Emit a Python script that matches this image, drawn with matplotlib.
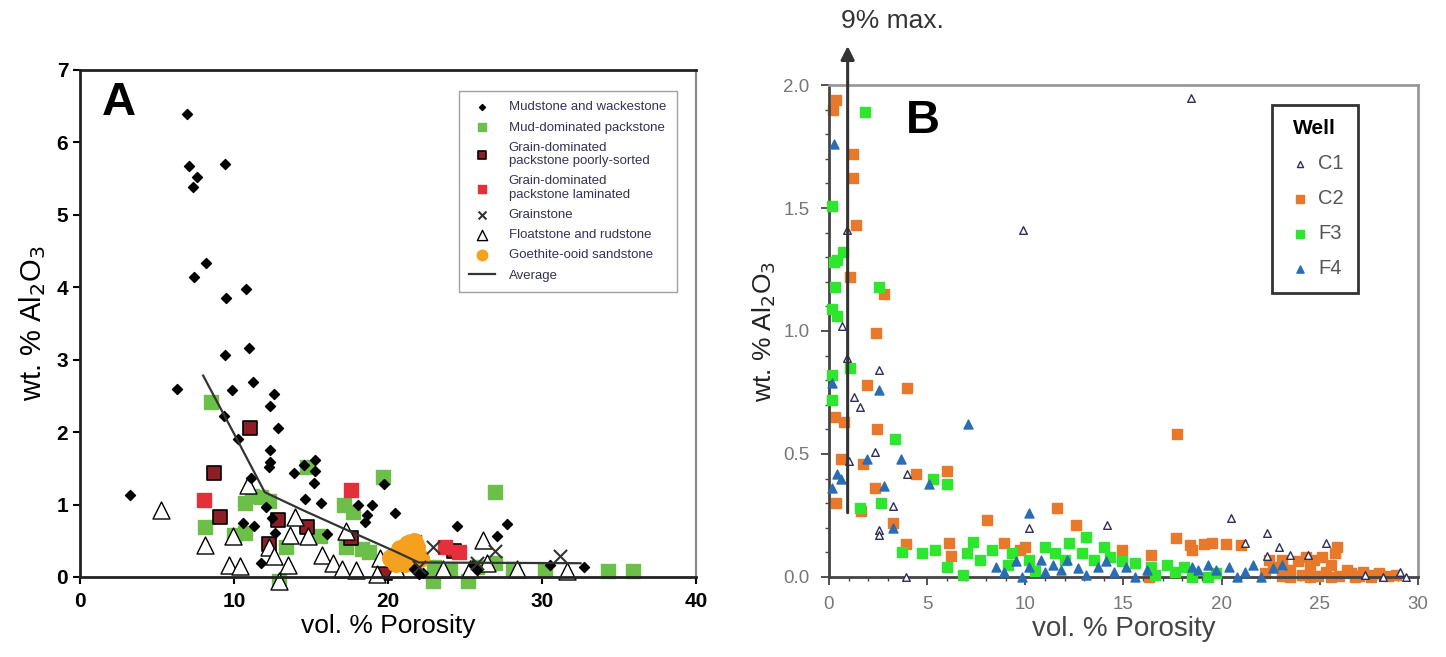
import matplotlib.pyplot as plt

plt.rcParams['font.family'] = ['Liberation Sans', 'DejaVu Sans']

# ---------------- panel A data ----------------
mud_x = [6.93, 7.08, 7.57, 7.37, 9.42, 8.19, 7.43, 10.79, 9.47, 9.42, 10.96, 11.23, 6.32, 9.85,
         12.57, 12.37, 9.36, 12.84, 10.23, 12.34, 12.34, 12.28, 13.92, 14.53, 15.26, 15.26, 15.18,
         3.22, 11.11, 14.59, 15.67, 18.04, 18.95, 19.77, 20.47, 18.65, 18.48, 12.05, 10.58, 11.31,
         12.49, 12.69, 16.05, 24.5, 27.7, 27.1, 11.78, 30.5, 32.7, 21.7, 22.0, 22.3, 25.5, 25.8]
mud_y = [6.39, 5.67, 5.52, 5.39, 5.70, 4.34, 4.14, 3.97, 3.85, 3.07, 3.16, 2.69, 2.60, 2.58,
         2.52, 2.36, 2.22, 2.05, 1.90, 1.75, 1.59, 1.52, 1.44, 1.54, 1.62, 1.47, 1.30,
         1.13, 1.37, 1.07, 1.02, 0.99, 1.00, 1.28, 0.88, 0.85, 0.76, 0.96, 0.75, 0.70,
         0.81, 0.61, 0.59, 0.70, 0.73, 0.56, 0.19, 0.17, 0.14, 0.11, 0.04, 0.06, 0.16, 0.09]

mudpack_x = [8.48, 8.1, 10.0, 10.73, 11.17, 11.75, 12.28, 10.73, 13.36, 14.74, 17.16, 17.75, 19.65,
             26.96, 17.3, 18.33, 18.77, 15.56, 23.0, 24.0, 25.8, 26.96, 28.13, 30.2, 34.3, 35.9,
             20.5, 22.9, 25.2, 12.9]
mudpack_y = [2.41, 0.69, 0.58, 1.02, 1.12, 1.10, 1.05, 0.61, 0.41, 1.52, 1.00, 0.90, 1.38,
             1.18, 0.41, 0.38, 0.34, 0.56, 0.14, 0.09, 0.14, 0.19, 0.11, 0.09, 0.08, 0.08,
             0.09, -0.05, -0.05, -0.05]

poor_x = [11.02, 8.68, 9.12, 12.87, 12.28, 14.77, 17.6, 19.8, 24.3]
poor_y = [2.06, 1.44, 0.83, 0.78, 0.46, 0.69, 0.54, 0.05, 0.36]

lam_x = [8.04, 17.6, 23.7, 24.6, 21.7]
lam_y = [1.06, 1.20, 0.41, 0.34, 0.48]

grain_x = [22.9, 26.96, 31.2, 25.8, 22.0]
grain_y = [0.41, 0.36, 0.29, 0.19, 0.14]

float_x = [5.26, 8.1, 9.7, 10.4, 9.94, 10.88, 12.28, 12.63, 13.51, 13.95, 13.65, 14.82, 15.7,
           16.4, 17.0, 17.9, 17.3, 19.5, 19.3, 20.5, 23.6, 25.35, 26.2, 26.4, 28.4, 31.6, 12.9]
float_y = [0.93, 0.44, 0.16, 0.15, 0.56, 1.27, 0.41, 0.29, 0.16, 0.83, 0.58, 0.56, 0.31,
           0.19, 0.11, 0.09, 0.63, 0.26, 0.04, 0.11, 0.11, 0.11, 0.51, 0.19, 0.11, 0.08, -0.05]

goe_x = [20.2, 20.8, 21.3, 21.55, 21.8, 21.1, 20.5, 22.1, 21.7]
goe_y = [0.26, 0.38, 0.46, 0.34, 0.41, 0.19, 0.19, 0.26, 0.48]

avg_x = [8.0, 10.0, 12.0, 14.5, 17.0, 20.5, 22.0, 32.5]
avg_y = [2.78, 1.98, 1.17, 0.92, 0.68, 0.35, 0.20, 0.19]

# ---------------- panel B data ----------------
c1_x = [18.45, 9.89, 0.9, 0.66, 0.9, 1.25, 1.6, 2.55, 2.32, 1.02, 3.97, 3.27, 2.55, 2.55, 3.93,
        10.2, 14.15, 20.5, 21.2, 22.3, 22.9, 25.3, 23.5, 24.4, 29.1, 29.4, 28.2, 27.3, 22.3]
c1_y = [1.946, 1.41, 1.41, 1.02, 0.89, 0.73, 0.69, 0.84, 0.51, 0.47, 0.42, 0.29, 0.19, 0.17, 0.0,
        0.20, 0.21, 0.24, 0.14, 0.18, 0.12, 0.14, 0.09, 0.09, 0.02, 0.0, 0.0, 0.01, 0.085]

c2_x = [0.38, 0.19, 1.2, 1.2, 1.37, 1.09, 2.79, 2.39, 1.92, 3.97, 0.31, 0.78, 2.44, 17.74, 0.59,
        1.73, 2.32, 4.45, 5.99, 0.38, 1.61, 3.27, 11.6, 8.05, 12.6, 3.93, 6.1, 8.9, 10.0, 14.9,
        17.7, 18.4, 19.1, 19.5, 20.2, 16.4, 6.2, 25.9, 16.3, 9.75, 18.48, 20.98,
        22.22, 22.64, 23.05, 23.47, 23.89, 24.09, 24.51, 24.72, 24.93, 25.34, 25.55, 25.76,
        25.97, 26.38, 26.59, 27.0, 27.21, 27.63, 28.04, 28.46, 28.88, 23.05, 24.3, 25.13,
        22.43, 23.47, 25.55, 26.8, 27.63, 24.51]
c2_y = [1.94, 1.90, 1.72, 1.62, 1.43, 1.22, 1.15, 0.99, 0.78, 0.77, 0.65, 0.63, 0.60, 0.58, 0.48,
        0.46, 0.36, 0.42, 0.43, 0.30, 0.27, 0.22, 0.28, 0.23, 0.21, 0.135, 0.14, 0.14, 0.12, 0.11,
        0.16, 0.13, 0.135, 0.14, 0.135, 0.09, 0.085, 0.12, 0.0, 0.11, 0.11, 0.13,
        0.015, 0.042, 0.002, 0.029, 0.063, 0.008, 0.042, 0.069, 0.002, 0.022, 0.049, 0.096,
        0.002, 0.029, 0.015, 0.002, 0.022, 0.008, 0.015, 0.002, 0.008, 0.069, 0.083, 0.083,
        0.069, 0.0, 0.0, 0.0, 0.0, 0.0]

f3_x = [1.85, 0.14, 0.26, 0.73, 0.43, 0.31, 0.14, 0.43, 2.55, 0.14, 1.09, 0.14, 3.34, 5.28, 5.99,
        1.56, 2.63, 3.72, 4.76, 5.38, 6.01, 6.84, 7.05, 7.36, 7.67, 8.29, 9.13, 9.33, 10.17,
        11.0, 11.52, 12.04, 12.24, 12.87, 13.08, 13.49, 14.01, 14.32, 14.95, 15.57, 16.4, 17.23,
        17.65, 18.07, 18.48, 19.31, 19.73, 10.5, 16.6]
f3_y = [1.89, 1.51, 1.28, 1.32, 1.29, 1.18, 1.09, 1.06, 1.18, 0.82, 0.85, 0.72, 0.56, 0.40, 0.38,
        0.28, 0.30, 0.103, 0.096, 0.11, 0.042, 0.008, 0.096, 0.144, 0.069, 0.11, 0.049, 0.096, 0.069,
        0.123, 0.096, 0.069, 0.137, 0.096, 0.164, 0.069, 0.123, 0.083, 0.063, 0.056, 0.042, 0.049,
        0.022, 0.042, 0.0, 0.0, 0.015, 0.025, 0.008]

f4_x = [0.26, 0.14, 2.55, 7.1, 1.92, 3.69, 0.43, 0.59, 0.14, 2.79, 5.11, 3.27, 10.2,
        8.5, 8.92, 9.54, 9.85, 10.17, 10.79, 11.0, 11.41, 11.83, 12.14, 12.66, 13.08, 13.7,
        14.12, 14.53, 15.15, 15.57, 16.19, 18.48, 18.79, 19.31, 19.73, 20.35, 20.77, 21.18,
        21.6, 22.0, 22.6, 23.05]
f4_y = [1.76, 0.79, 0.76, 0.62, 0.48, 0.48, 0.42, 0.40, 0.36, 0.37, 0.376, 0.20, 0.26,
        0.042, 0.022, 0.063, 0.0, 0.042, 0.069, 0.022, 0.049, 0.029, 0.069, 0.035, 0.008, 0.042,
        0.063, 0.022, 0.042, 0.0, 0.029, 0.042, 0.029, 0.049, 0.029, 0.042, 0.0, 0.022,
        0.049, 0.0, 0.035, 0.049]

fig = plt.figure(figsize=(14.46, 6.57), dpi=100)

# ================= panel A =================
axA = fig.add_axes([0.0553, 0.1218, 0.426, 0.7717])
axA.scatter(mud_x, mud_y, marker='D', s=26, c='black', zorder=3, clip_on=False,
            label='Mudstone and wackestone')
axA.scatter(mudpack_x, mudpack_y, marker='s', s=110, c='#6cc04a', zorder=2, clip_on=False,
            label='Mud-dominated packstone')
axA.scatter(poor_x, poor_y, marker='s', s=110, c='#8e1e26', edgecolors='black', linewidths=1.2,
            zorder=2, clip_on=False, label='Grain-dominated\npackstone poorly-sorted')
axA.scatter(lam_x, lam_y, marker='s', s=110, c='#e3303b', zorder=2, clip_on=False,
            label='Grain-dominated\npackstone laminated')
axA.scatter(grain_x, grain_y, marker='x', s=90, c='#333333', linewidths=1.5, zorder=3,
            label='Grainstone')
axA.scatter(float_x, float_y, marker='^', s=150, facecolors='white', edgecolors='black', linewidths=1.0,
            zorder=2, clip_on=False, label='Floatstone and rudstone')
axA.scatter(goe_x, goe_y, marker='o', s=160, c='#f5a01e', zorder=2, label='Goethite-ooid sandstone')
axA.plot(avg_x, avg_y, color='#333333', lw=1.6, zorder=4, label='Average')

axA.set_xlim(0, 40)
axA.set_ylim(0, 7)
axA.set_xticks([0, 10, 20, 30, 40])
axA.set_yticks(range(0, 8))
axA.tick_params(labelsize=15, width=1.5, length=5)
axA.tick_params(axis='x', pad=6)
for lab in axA.get_xticklabels() + axA.get_yticklabels():
    lab.set_fontweight('bold')
for s in ['left', 'bottom', 'top']:
    axA.spines[s].set_linewidth(2)
    axA.spines[s].set_color('#222222')
axA.spines['right'].set_color('#888888')
axA.spines['right'].set_linewidth(1.5)
axA.set_xlabel('vol. % Porosity', fontsize=19, labelpad=2)
axA.set_ylabel('wt. % Al$_2$O$_3$', fontsize=21, labelpad=6)
axA.text(0.035, 0.935, 'A', transform=axA.transAxes, fontsize=34, fontweight='bold', va='center')
legA = axA.legend(loc='upper right', bbox_to_anchor=(0.975, 0.967), fontsize=9.5, frameon=True,
                  fancybox=False, edgecolor='#888888', labelspacing=0.6, handletextpad=1.0,
                  borderpad=0.8, borderaxespad=0.3, markerscale=0.6, labelcolor='#333355')

# ================= panel B =================
axB = fig.add_axes([0.5733, 0.1218, 0.4073, 0.7488])
axB.scatter(c1_x, c1_y, marker='^', s=30, facecolors='white', edgecolors='#2e2f5e', linewidths=1.0,
            zorder=4, clip_on=False, label='C1')
axB.scatter(c2_x, c2_y, marker='s', s=58, c='#e8782a', zorder=2, clip_on=False, label='C2')
axB.scatter(f3_x, f3_y, marker='s', s=62, c='#2ee62e', zorder=3, clip_on=False, label='F3')
axB.scatter(f4_x, f4_y, marker='^', s=42, c='#2a6db3', zorder=3, clip_on=False, label='F4')

axB.set_xlim(0, 30)
axB.set_ylim(0, 2.0)
axB.set_xticks([0, 5, 10, 15, 20, 25, 30])
axB.set_xticks(range(0, 31), minor=True)
axB.set_yticks([0.0, 0.5, 1.0, 1.5, 2.0])
axB.set_yticks([i / 10 for i in range(21)], minor=True)
axB.yaxis.set_major_formatter(plt.FormatStrFormatter('%.1f'))
axB.tick_params(labelsize=13.5, labelcolor='#777777', color='#444444', width=1.3, length=6)
axB.tick_params(axis='x', pad=8)
axB.tick_params(axis='y', pad=8)
axB.tick_params(which='minor', color='#444444', width=1.0, length=3)
axB.spines['left'].set_color('#444444')
axB.spines['left'].set_linewidth(2)
axB.spines['bottom'].set_color('#444444')
axB.spines['bottom'].set_linewidth(2)
axB.spines['top'].set_color('#999999')
axB.spines['top'].set_linewidth(2)
axB.spines['right'].set_color('#999999')
axB.spines['right'].set_linewidth(2)
axB.set_xlabel('vol. % Porosity', fontsize=20, color='#444444', labelpad=2)
axB.set_ylabel('wt. % Al$_2$O$_3$', fontsize=19, color='#222222', labelpad=4)
axB.text(0.13, 0.927, 'B', transform=axB.transAxes, fontsize=34, fontweight='bold', va='center')

# arrow showing 9% max.
axB.annotate('', xy=(0.95, 2.17), xytext=(0.95, 0.25), xycoords='data',
             arrowprops=dict(arrowstyle='-|>', color='#333333', lw=2.2, mutation_scale=20),
             annotation_clip=False, zorder=5)
axB.text(0.6, 2.26, '9% max.', fontsize=19, color='#333333', va='center', ha='left')

legB = axB.legend(loc='upper right', bbox_to_anchor=(0.915, 0.98), title='Well', fontsize=14.5,
                  frameon=True, fancybox=False, edgecolor='black', labelspacing=0.8,
                  handletextpad=0.2, borderpad=0.7, markerscale=0.8, handlelength=1.4,
                  labelcolor='#555555')
legB.get_frame().set_linewidth(2)
legB.get_title().set_fontweight('bold')
legB.get_title().set_fontsize(15)

fig.savefig('out.png', dpi=100)
